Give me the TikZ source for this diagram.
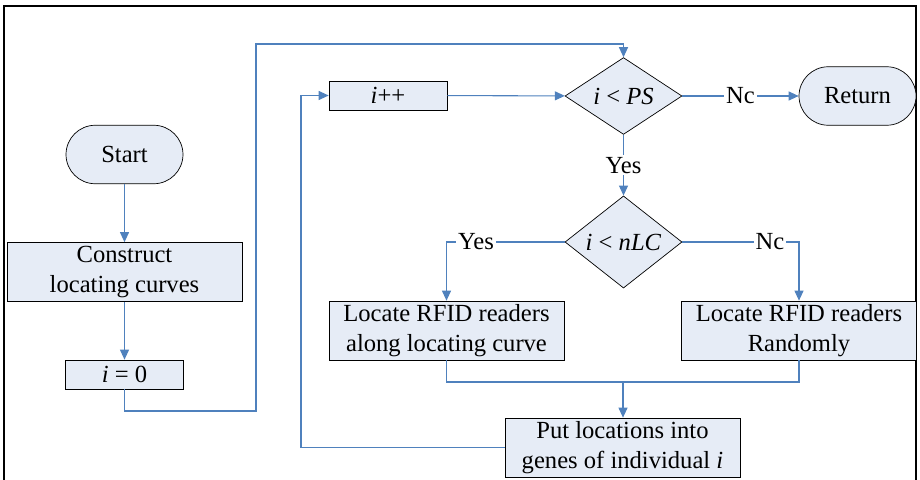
\documentclass[tikz,border=0pt]{standalone}
\usepackage{fontspec}
\setmainfont{Liberation Serif}
\usetikzlibrary{shapes.geometric, arrows.meta}

\definecolor{flowblue}{RGB}{79,129,189}
\definecolor{flowfill}{RGB}{230,236,246}

\begin{document}
\begin{tikzpicture}[x=0.02cm, y=-0.02cm,
            box/.style={draw, fill=flowfill, minimum width=4.7cm, minimum height=1.18cm,
                        inner sep=0pt, align=center, font=\fontsize{14}{17}\selectfont},
            smallbox/.style={box, minimum width=2.36cm, minimum height=0.58cm},
            term/.style={box, minimum width=2.34cm, minimum height=1.17cm, rounded corners=0.585cm},
            test/.style={diamond, draw, fill=flowfill, minimum width=2.34cm, minimum height=1.16cm,
                         inner sep=0pt, font=\fontsize{14}{17}\selectfont},
            arr/.style={-{Triangle[length=0.2cm, width=0.18cm]}, flowblue, line width=0.6pt},
            line/.style={flowblue, line width=0.6pt},
            lbl/.style={fill=white, text=black, inner sep=1pt, font=\fontsize{14}{17}\selectfont}
        ]
        \useasboundingbox (0,0) rectangle (920,480);
        \draw[line width=1pt] (4,480) -- (4,6) -- (916,6) -- (916,480);

        % --- left column ---
        \node[term] (start) at (124.5, 154.5) {Start};
        \node[box] (curves) at (124.5, 272) {Construct\\locating curves};
        \node[smallbox] (init) at (124.5, 374.5) {\textit{i} = 0};
        \draw[arr] (start) -- (curves);
        \draw[arr] (curves) -- (init);

        % --- loop head ---
        \node[smallbox] (inc) at (388, 95.5) {\textit{i}++};
        \node[test] (ps) at (623.5, 96) {\textit{i} < \textit{PS}};
        \node[term] (ret) at (857.5, 96) {Return};
        \coordinate (lowleft) at (256, 411);
        \coordinate (topleft) at (256, 44);
        \draw[arr] (init.south) |- (lowleft) -- (topleft) -| (ps.north);
        \draw[arr] (inc) -- (ps);
        \draw[arr] (ps) -- node[lbl] {Nc} (ret);

        % --- inner test ---
        \node[test] (nlc) at (623.5, 242) {\textit{i} < \textit{nLC}};
        \draw[arr] (ps) -- node[lbl] {Yes} (nlc);
        \node[box] (along) at (446.5, 330.5) {Locate RFID readers\\along locating curve};
        \node[box] (rand) at (799, 330.5) {Locate RFID readers\\Randomly};
        \draw[arr] (nlc.west) -| node[lbl, pos=0.375] {Yes} (along.north);
        \draw[arr] (nlc.east) -| node[lbl, pos=0.375] {Nc} (rand.north);

        % --- merge and loop back ---
        \node[box] (genes) at (622.5, 447.5) {Put locations into\\genes of individual \textit{i}};
        \coordinate (merge) at (623, 382);
        \draw[line] (along.south) |- (merge);
        \draw[line] (rand.south) |- (merge);
        \draw[arr] (merge) -- (merge |- genes.north);
        \coordinate (loopx) at (301, 0);
        \draw[arr] (genes.west) -- (genes.west -| loopx) -- (inc.west -| loopx) -- (inc.west);
\end{tikzpicture}
\end{document}
